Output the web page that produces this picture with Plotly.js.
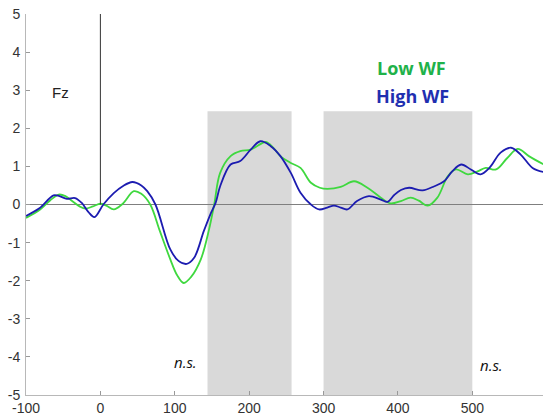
<!DOCTYPE html>
<html>
<head>
<meta charset="utf-8">
<script src="https://cdn.plot.ly/plotly-3.0.1.min.js"></script>
<style>html,body{margin:0;padding:0;background:#fff;}#chart{width:543px;height:417px;}</style>
</head>
<body>
<div id="chart"></div>
<script>
// Time (ms) and amplitude (µV)
const timeHigh = [-100,-82,-63,-55,-45,-34,-25,-16,-8,4,18,30,43,55,63,74,94,105,116,126,139,148,155,161,175,188,202,215,229,242,256,269,283,294,305,314,323,332,345,361,377,386,395,404,415,433,449,462,473,485,498,511,523,538,552,565,581,596];
const valsHigh = [-0.30,-0.10,0.24,0.22,0.15,0.17,0.04,-0.20,-0.33,0.00,0.30,0.48,0.59,0.50,0.35,0.00,-1.18,-1.48,-1.56,-1.40,-0.70,-0.25,0.05,0.48,1.05,1.14,1.44,1.66,1.53,1.27,0.83,0.31,0.00,-0.13,-0.08,-0.03,-0.08,-0.13,0.09,0.22,0.13,0.07,0.25,0.38,0.44,0.37,0.48,0.61,0.87,1.05,0.92,0.79,0.96,1.36,1.49,1.31,0.96,0.85];
const timeLow = [-100,-81,-68,-56,-47,-38,-28,-20,-10,0,8,18,30,45,55,67,80,94,103,112,122,135,146,153,161,175,188,202,212,222,232,242,256,269,283,295,305,323,341,359,377,390,404,417,428,440,453,467,478,494,507,518,532,547,561,576,596];
const valsLow = [-0.35,-0.13,0.10,0.26,0.22,0.09,-0.05,-0.11,-0.05,0.02,-0.03,-0.13,0.02,0.35,0.28,0.00,-0.70,-1.44,-1.85,-2.06,-1.90,-1.44,-0.66,0.00,0.83,1.27,1.40,1.44,1.55,1.64,1.50,1.27,1.09,0.96,0.57,0.44,0.41,0.46,0.61,0.44,0.18,0.03,0.09,0.18,0.10,-0.03,0.18,0.74,0.92,0.79,0.87,0.96,0.92,1.22,1.46,1.27,1.05];
const xTicks = [-100,0,100,200,300,400,500];
const yTicks = [-5,-4,-3,-2,-1,0,1,2,3,4,5];
const windows = [[144,257],[300,500]];
const windowTop = 2.45;
const seriesNames = ['Low WF','High WF'];

const traces = [
  {x: timeLow, y: valsLow, type:'scatter', mode:'lines', name: seriesNames[0],
   line:{color:'#3fd83f', width:1.8, shape:'spline', smoothing:1}},
  {x: timeHigh, y: valsHigh, type:'scatter', mode:'lines', name: seriesNames[1],
   line:{color:'#1c1cb0', width:1.8, shape:'spline', smoothing:1}}
];

const shapes = windows.map(w => ({type:'rect', xref:'x', yref:'y', x0:w[0], x1:w[1], y0:-5, y1:windowTop,
  fillcolor:'#d9d9d9', line:{width:0}, layer:'below'}));
shapes.push({type:'line', xref:'x', yref:'y', x0:0, x1:0, y0:0, y1:5, line:{color:'#333', width:1}});

const layout = {
  width:543, height:417,
  margin:{l:26, r:0, t:14, b:22, pad:0},
  paper_bgcolor:'#fff', plot_bgcolor:'rgba(0,0,0,0)',
  showlegend:false,
  font:{family:'"Liberation Sans", Arial, sans-serif', size:14, color:'#333'},
  xaxis:{range:[-100,595], tickvals:xTicks, ticktext:xTicks.map(String), showgrid:false, zeroline:false,
    showline:true, linecolor:'#b8b8b8', linewidth:1, ticks:'inside', ticklen:4, tickcolor:'#999',
    tickfont:{size:14, color:'#333'}, fixedrange:true},
  yaxis:{range:[-5,5], tickvals:yTicks, ticktext:yTicks.map(String), showgrid:false,
    zeroline:true, zerolinecolor:'#7f7f7f', zerolinewidth:1.5,
    showline:true, linecolor:'#b8b8b8', linewidth:1, ticks:'inside', ticklen:4, tickcolor:'#999',
    tickfont:{size:14, color:'#333'}, ticklabelstandoff:2, fixedrange:true},
  shapes: shapes,
  annotations:[
    {x:-54, y:2.95, xref:'x', yref:'y', text:'Fz', showarrow:false, font:{size:15, color:'#222'}},
    {x:418, y:3.57, xref:'x', yref:'y', text:'<b>Low WF</b>', showarrow:false,
     font:{family:'"Open Sans", sans-serif', size:18, color:'#1fb24a'}},
    {x:419, y:2.86, xref:'x', yref:'y', text:'<b>High WF</b>', showarrow:false,
     font:{family:'"Open Sans", sans-serif', size:18, color:'#1f2fb0'}},
    {x:114, y:-4.14, xref:'x', yref:'y', text:'<i>n.s.</i>', showarrow:false,
     font:{family:'"Open Sans", sans-serif', size:15, color:'#111'}},
    {x:526, y:-4.2, xref:'x', yref:'y', text:'<i>n.s.</i>', showarrow:false,
     font:{family:'"Open Sans", sans-serif', size:15, color:'#111'}}
  ]
};
Plotly.newPlot('chart', traces, layout, {displayModeBar:false, staticPlot:true});
</script>
</body>
</html>
